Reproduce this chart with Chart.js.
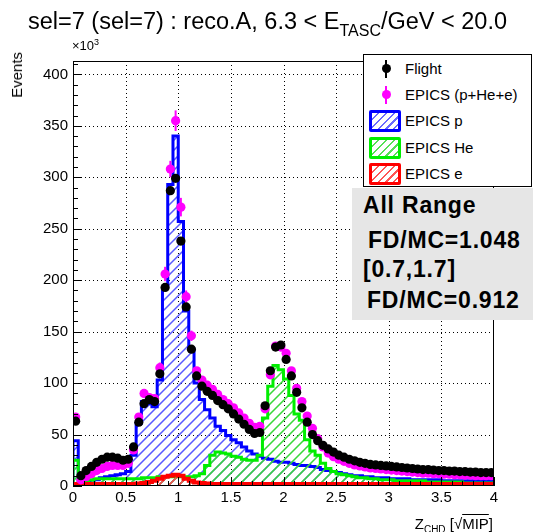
<!DOCTYPE html>
<html>
<head>
<meta charset="utf-8">
<script src="https://cdn.jsdelivr.net/npm/chart.js@4/dist/chart.umd.min.js"></script>
<style>
  html, body { margin: 0; padding: 0; background: #fff; }
  #wrap { position: relative; width: 533px; height: 532px; overflow: hidden; font-family: "Liberation Sans", Arial, sans-serif; color: #000; }
  #c { position: absolute; left: 0; top: 0; }
  .t { position: absolute; white-space: nowrap; line-height: 1; }
  #title { left: 0; width: 535px; text-align: center; top: 10px; font-size: 23.5px; }
  #title sub { font-size: 16px; vertical-align: -7px; line-height: 1; }
  #exp { left: 72px; top: 38px; font-size: 13px; }
  #exp sup { font-size: 9px; vertical-align: 5px; }
  #ytitle { left: 9px; top: 52px; font-size: 15px; writing-mode: vertical-rl; transform: rotate(180deg); }
  #xtitle { right: 40px; top: 516px; font-size: 15px; }
  #xtitle sub { font-size: 10px; vertical-align: -4px; }
  .ov { text-decoration: overline; }
  #legend { position: absolute; left: 363px; top: 54px; width: 167px; height: 131px; border: 1px solid #000; background: #fff; }
  .lt { position: absolute; left: 41px; font-size: 15px; line-height: 1; white-space: nowrap; }
  .dot { position: absolute; width: 9px; height: 9px; border-radius: 50%; }
  .bar { position: absolute; width: 2px; height: 18px; }
  .box { position: absolute; left: 5px; width: 26px; height: 16px; border-radius: 2px; }
  #stats { position: absolute; left: 352px; top: 188px; width: 181px; height: 132px; background: #e6e6e6; }
  .st { position: absolute; font-size: 23px; font-weight: bold; line-height: 1; white-space: nowrap; letter-spacing: 0.8px; }
</style>
</head>
<body>
<div id="wrap">
  <canvas id="c" width="533" height="532"></canvas>
  <div class="t" id="title">sel=7 (sel=7) : reco.A, 6.3 &lt; E<sub>TASC</sub>/GeV &lt; 20.0</div>
  <div class="t" id="exp">×10<sup>3</sup></div>
  <div class="t" id="ytitle">Events</div>
  <div class="t" id="xtitle">Z<sub>CHD</sub> [√<span class="ov">MIP</span>]</div>
  <div id="legend">
    <div class="bar" style="left:21px; top:5px; background:#000"></div>
    <div class="dot" style="left:17.5px; top:9px; background:#000"></div>
    <div class="lt" style="top:6px">Flight</div>
    <div class="bar" style="left:21px; top:31px; background:#ff00ff"></div>
    <div class="dot" style="left:17.5px; top:35px; background:#ff00ff"></div>
    <div class="lt" style="top:32px">EPICS (p+He+e)</div>
    <div class="box" style="top:55px; border:3px solid #0000ff; background:repeating-linear-gradient(135deg, #fff 0 4px, #6a6aff 4px 5.5px)"></div>
    <div class="lt" style="top:58px">EPICS p</div>
    <div class="box" style="top:82px; border:3px solid #00ee00; background:repeating-linear-gradient(135deg, #fff 0 4px, #55e055 4px 5.5px)"></div>
    <div class="lt" style="top:85px">EPICS He</div>
    <div class="box" style="top:108px; border:3px solid #ff0000; background:repeating-linear-gradient(135deg, #fff 0 4px, #ff5555 4px 5.5px)"></div>
    <div class="lt" style="top:111px">EPICS e</div>
  </div>
  <div id="stats">
    <div class="st" style="left:11px; top:6px">All Range</div>
    <div class="st" style="left:16px; top:41px">FD/MC=1.048</div>
    <div class="st" style="left:11px; top:70px">[0.7,1.7]</div>
    <div class="st" style="left:15px; top:101px">FD/MC=0.912</div>
  </div>
</div>
<script>
// ---- data (values in units of 10^3 events), 80 bins of width 0.05 from 0 to 4 ----
const xMin = 0;
const binWidth = 0.05;
const xTickValues = [0, 0.5, 1, 1.5, 2, 2.5, 3, 3.5, 4];
const yTickValues = [0, 50, 100, 150, 200, 250, 300, 350, 400];

const flight = [63,10,15,19,23,26,28,28,27,25, 26,38,62,80,84,82,109,193,287,299,
  238,174,133,107,97,92,88,83,79,75, 70,65,60,55,51,52,78,112,135,137,
  123,107,91,76,62,50,44,39.5,36,33, 30,28,26,24.5,23,22,21,20.5,20,19.5,
  19,18.5,18,17.5,17,16.5,16,16,15.5,15, 15,14.5,14.5,14,14,13.5,13.5,13,13,13];

const epicsSum = [67,6,9,12,15,17,19,20,20,20, 22,35,67,90,86,85,115,206,308,355,
  271,184,146,112,103,98,94,89,84,80, 76,71,66,61,57,58,75,108,136,135,
  129,112,95,82,68,56,46,38,32,28.5, 26,24,22,20.5,19.5,18.5,17.5,17,16.5,16,
  15.5,15,14.5,14,13.5,13,12.5,12.5,12,12, 11.5,11.5,11,11,10.5,10.5,10,10,10,10];

const sumErr = [2,1,1,1,1,1,1,1,1,1, 1,1,2,3,3,3,5,7,8,10,
  9,6,5,3,3,3,3,3,3,3, 2,2,2,2,2,2,2,3,4,4, 4,3,3,2,2,2,2,1,1,1,
  1,1,1,1,1,1,1,1,1,1, 1,1,1,1,1,1,1,1,1,1, 1,1,1,1,1,1,1,1,1,1];

const epicsP = [44,2,3,5,6,8,9,10,11,12, 14,30,61,82,80,77,103,193,293,340,
  257,170,133,100,84,74,66,58,54,49, 45,42,38,34,31,29,27,26,24,23,
  23,22,21,20,20,19,18,16,15,14, 13,12,11,10,10,9,9,8,8,8,
  7,7,7,7,6,6,6,6,6,6, 5,5,5,5,5,5,5,5,5,5];

const epicsHe = [25,4,5,6,7,7,7,7,7,7, 7,7,7,8,8,8,9,9,9,9,
  9,9,9,10,12,20,30,33,32,31, 29,28,26,25,25,30,66,97,117,113,
  104,88,70,64,45,34,30,22,17,14, 12,11,10,9,8,8,7,7,6,6,
  6,5,5,5,5,5,5,4,4,4, 4,4,4,4,3,3,3,3,3,3];

const epicsE = [2,2,2,2,2,2,2,2,2,2, 2,2,2.5,3,4,5,7,9,10,11,
  10,7,5,3.5,3,2.5,2,2,2,2, 2,2,2,2,2,2,2,2,2,2, 2,2,2,2,2,2,2,2,2,2,
  2,2,2,2,2,2,2,2,2,2, 2,2,2,2,2,2,2,2,2,2, 2,2,2,2,2,2,2,2,2,2];

// ---- helpers ----
function pointData(vals) {
  return vals.map((v, i) => ({ x: xMin + (i + 0.5) * binWidth, y: v }));
}
function stepData(vals) {
  const d = [{ x: xMin, y: 0 }];
  vals.forEach((v, i) => d.push({ x: xMin + i * binWidth, y: v }));
  const xEnd = xMin + vals.length * binWidth;
  d.push({ x: xEnd, y: vals[vals.length - 1] });
  d.push({ x: xEnd, y: 0 });
  return d;
}

// hatch colours per histogram dataset index
const hatchSpec = {
  2: { vals: epicsE, color: '#ff4a4a' },
  3: { vals: epicsHe, color: '#3ad83a' },
  4: { vals: epicsP, color: '#5a5aff' }
};

const hatchPlugin = {
  id: 'hatch',
  beforeDatasetDraw(chart, args) {
    const spec = hatchSpec[args.index];
    if (!spec) return;
    const ctx = chart.ctx, a = chart.chartArea, xs = chart.scales.x, ys = chart.scales.y;
    const vals = spec.vals;
    ctx.save();
    ctx.beginPath();
    ctx.rect(a.left, a.top, a.right - a.left, a.bottom - a.top);
    ctx.clip();
    ctx.beginPath();
    ctx.moveTo(xs.getPixelForValue(xMin), ys.getPixelForValue(0));
    vals.forEach((v, i) => {
      const py = ys.getPixelForValue(v);
      ctx.lineTo(xs.getPixelForValue(xMin + i * binWidth), py);
      ctx.lineTo(xs.getPixelForValue(xMin + (i + 1) * binWidth), py);
    });
    ctx.lineTo(xs.getPixelForValue(xMin + vals.length * binWidth), ys.getPixelForValue(0));
    ctx.closePath();
    ctx.clip();
    ctx.strokeStyle = spec.color;
    ctx.lineWidth = 1.5;
    ctx.beginPath();
    const H = a.bottom - a.top, W = a.right - a.left;
    for (let c = -H; c <= W; c += 10) {
      ctx.moveTo(a.left + c, a.bottom);
      ctx.lineTo(a.left + c + H, a.bottom - H);
    }
    ctx.stroke();
    ctx.restore();
  }
};

const errPlugin = {
  id: 'errbars',
  beforeDatasetDraw(chart, args) {
    if (args.index !== 1) return;
    const ctx = chart.ctx, xs = chart.scales.x, ys = chart.scales.y;
    ctx.save();
    ctx.strokeStyle = '#ff00ff'; ctx.lineWidth = 2;
    epicsSum.forEach((v, i) => {
      const px = xs.getPixelForValue(xMin + (i + 0.5) * binWidth);
      ctx.beginPath();
      ctx.moveTo(px, ys.getPixelForValue(v - sumErr[i]));
      ctx.lineTo(px, ys.getPixelForValue(v + sumErr[i]));
      ctx.stroke();
    });
    ctx.restore();
  }
};

const framePlugin = {
  id: 'frame',
  beforeDatasetsDraw(chart) {
    const ctx = chart.ctx, a = chart.chartArea, xs = chart.scales.x, ys = chart.scales.y;
    ctx.save();
    ctx.strokeStyle = '#000'; ctx.lineWidth = 1; ctx.setLineDash([1, 3]);
    xTickValues.forEach(v => {
      const px = Math.round(xs.getPixelForValue(v)) + 0.5;
      if (px <= a.left + 1 || px >= a.right - 1) return;
      ctx.beginPath(); ctx.moveTo(px, a.top); ctx.lineTo(px, a.bottom); ctx.stroke();
    });
    yTickValues.forEach(v => {
      const py = Math.round(ys.getPixelForValue(v)) + 0.5;
      if (py >= a.bottom - 1 || py <= a.top + 1) return;
      ctx.beginPath(); ctx.moveTo(a.left, py); ctx.lineTo(a.right, py); ctx.stroke();
    });
    ctx.restore();
  },
  afterDatasetsDraw(chart) {
    const ctx = chart.ctx, a = chart.chartArea, xs = chart.scales.x, ys = chart.scales.y;
    ctx.save();
    ctx.strokeStyle = '#000'; ctx.lineWidth = 1; ctx.setLineDash([]);
    ctx.strokeRect(a.left + 0.5, a.top + 0.5, a.right - a.left - 1, a.bottom - a.top - 1);
    ctx.beginPath();
    for (let v = 0; v <= ys.max + 1e-9; v += 10) {
      const py = Math.round(ys.getPixelForValue(v)) + 0.5;
      const len = (Math.abs(v % 50) < 1e-6) ? 9 : 5;
      ctx.moveTo(a.left, py); ctx.lineTo(a.left + len, py);
    }
    for (let k = 0; k <= 40; k++) {
      const v = xMin + k * 0.1;
      const px = Math.round(xs.getPixelForValue(v)) + 0.5;
      const len = (k % 5 === 0) ? 9 : 5;
      ctx.moveTo(px, a.bottom); ctx.lineTo(px, a.bottom - len);
    }
    ctx.stroke();
    ctx.restore();
  }
};

const ctx = document.getElementById('c').getContext('2d');
new Chart(ctx, {
  type: 'line',
  data: {
    datasets: [
      { label: 'Flight', type: 'scatter', data: pointData(flight), showLine: false,
        pointRadius: 4.6, pointBackgroundColor: '#000', pointBorderWidth: 0, pointBorderColor: '#000' },
      { label: 'EPICS (p+He+e)', type: 'scatter', data: pointData(epicsSum), showLine: false,
        pointRadius: 4.6, pointBackgroundColor: '#ff00ff', pointBorderWidth: 0, pointBorderColor: '#ff00ff' },
      { label: 'EPICS e', data: stepData(epicsE), stepped: 'before', borderColor: '#ff0000', borderWidth: 4,
        backgroundColor: 'rgba(0,0,0,0)', fill: false, pointRadius: 0 },
      { label: 'EPICS He', data: stepData(epicsHe), stepped: 'before', borderColor: '#00ee00', borderWidth: 3,
        backgroundColor: 'rgba(0,0,0,0)', fill: false, pointRadius: 0 },
      { label: 'EPICS p', data: stepData(epicsP), stepped: 'before', borderColor: '#0000ff', borderWidth: 3,
        backgroundColor: 'rgba(0,0,0,0)', fill: false, pointRadius: 0 }
    ]
  },
  options: {
    responsive: false, animation: false, devicePixelRatio: 1,
    layout: { padding: { left: 0, top: 61, right: 39, bottom: 0 } },
    plugins: { legend: { display: false }, tooltip: { enabled: false }, title: { display: false } },
    scales: {
      x: {
        type: 'linear', min: 0, max: 4,
        afterBuildTicks(s) { s.ticks = xTickValues.map(v => ({ value: v })); },
        afterFit(s) { s.height = 46; },
        ticks: { autoSkip: false, maxRotation: 0, padding: 3, color: '#000',
          font: { family: '"Liberation Sans", Arial, sans-serif', size: 15 },
          callback: v => String(v) },
        grid: { display: false, drawTicks: false },
        border: { display: false }
      },
      y: {
        type: 'linear', min: 0, max: 413,
        afterBuildTicks(s) { s.ticks = yTickValues.map(v => ({ value: v })); },
        afterFit(s) { s.width = 73; },
        ticks: { autoSkip: false, padding: 5, color: '#000',
          font: { family: '"Liberation Sans", Arial, sans-serif', size: 15 },
          callback: v => String(v) },
        grid: { display: false, drawTicks: false },
        border: { display: false }
      }
    }
  },
  plugins: [hatchPlugin, errPlugin, framePlugin]
});
</script>
</body>
</html>
